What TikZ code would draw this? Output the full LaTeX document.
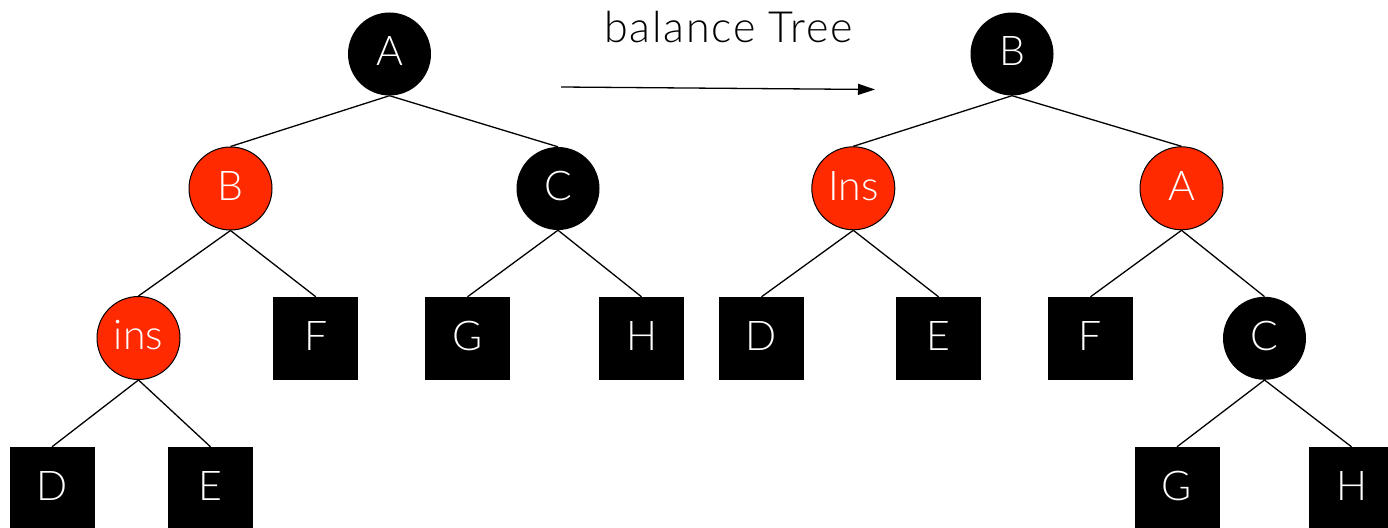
\documentclass[tikz,border=0pt]{standalone}
\usepackage{fontspec}
\setmainfont{Lato}[UprightFont=* Light]
\newfontfamily\titlefont{Lato}[UprightFont=* Light, LetterSpace=4]
\usetikzlibrary{arrows.meta}
\definecolor{rbred}{RGB}{255,42,0}
\begin{document}
\begin{tikzpicture}[x=1pt,y=-1pt,
  lbl/.style={font=\fontsize{41}{49}\selectfont, text=white, text height=29.4pt, text depth=6pt, inner sep=0pt},
  blackc/.style={lbl, circle, fill=black, minimum size=83pt},
  redc/.style={lbl, circle, fill=rbred, draw=black, line width=1pt, minimum size=83pt},
  leaf/.style={lbl, rectangle, fill=black, minimum width=85pt, minimum height=83pt},
  edge/.style={draw=black, line width=1.3pt}]
\useasboundingbox (0,0) rectangle (1388,527);
\clip (0,0) rectangle (1388,527);
% left tree
\node[blackc] (lA) at (389.5,54) {A};
\node[redc] (lB) at (230.5,188.5) {B};
\node[blackc] (lC) at (558,188.5) {C};
\node[redc] (lins) at (138.5,338) {ins};
\node[leaf] (lF) at (315.8,338.5) {F};
\node[leaf] (lG) at (467.5,338.5) {G};
\node[leaf] (lH) at (641.5,338.5) {H};
\node[leaf] (lD) at (52,488.5) {D};
\node[leaf] (lE) at (210.5,488.5) {E};
% right tree
\node[blackc] (rB) at (1012,54) {B};
\node[redc] (rIns) at (853.3,188.3) {Ins};
\node[redc] (rA) at (1181.5,188.3) {A};
\node[leaf] (rD) at (761.5,338.5) {D};
\node[leaf] (rE) at (938.5,338.5) {E};
\node[leaf] (rF) at (1090.5,338.5) {F};
\node[blackc] (rC) at (1264.5,338.3) {C};
\node[leaf] (rG) at (1177,488.5) {G};
\node[leaf] (rH) at (1351.5,488.5) {H};
% edges
\draw[edge] (lA.south) -- (lB.north);
\draw[edge] (lA.south) -- (lC.north);
\draw[edge] (lB.south) -- (lins.north);
\draw[edge] (lB.south) -- (lF.north);
\draw[edge] (lC.south) -- (lG.north);
\draw[edge] (lC.south) -- (lH.north);
\draw[edge] (lins.south) -- (lD.north);
\draw[edge] (lins.south) -- (lE.north);
\draw[edge] (rB.south) -- (rIns.north);
\draw[edge] (rB.south) -- (rA.north);
\draw[edge] (rIns.south) -- (rD.north);
\draw[edge] (rIns.south) -- (rE.north);
\draw[edge] (rA.south) -- (rF.north);
\draw[edge] (rA.south) -- (rC.north);
\draw[edge] (rC.south) -- (rG.north);
\draw[edge] (rC.south) -- (rH.north);
% title and arrow
\node[font=\titlefont\fontsize{43}{51}\selectfont, inner sep=0pt, anchor=base] (title) at (728.5,42) {balance Tree};
\coordinate (arS) at (561,87);
\coordinate (arE) at (875,89.5);
\draw[line width=1.3pt, -{Triangle[length=17pt,width=11pt]}] (arS) -- (arE);
\end{tikzpicture}
\end{document}
